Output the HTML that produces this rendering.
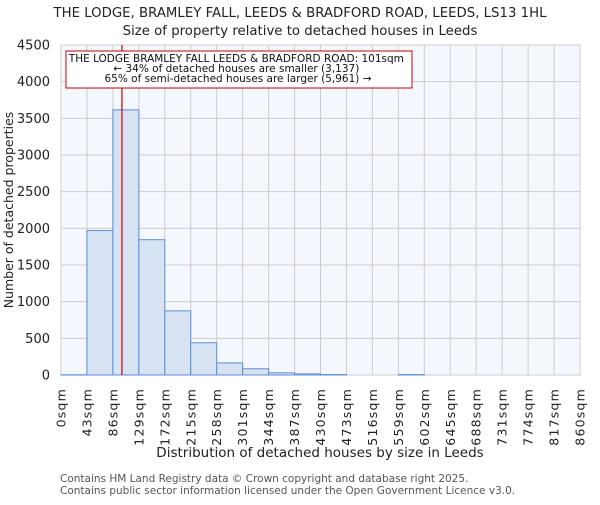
<!DOCTYPE html>
<html><head><meta charset="utf-8"><style>
body{margin:0;background:#fff}
svg text{font-family:"DejaVu Sans","Liberation Sans",sans-serif}
</style></head><body>
<svg id="chart" width="600" height="500" xmlns="http://www.w3.org/2000/svg">
<text x="300" y="17" font-size="13.3" text-anchor="middle" fill="#222">THE LODGE, BRAMLEY FALL, LEEDS &amp; BRADFORD ROAD, LEEDS, LS13 1HL</text>
<text x="300" y="35" font-size="13.3" text-anchor="middle" fill="#222">Size of property relative to detached houses in Leeds</text>
<rect x="61" y="45" width="519" height="330" fill="#f4f7fd" stroke="#ccc"/>
<g id="grid"></g>
<g id="bars"></g>
<g id="xticks"></g>
<g id="yticks"></g>
<line id="marker" stroke="#cc0000" stroke-width="1.2"/>
<rect x="66" y="51" width="346" height="37" fill="#fff" stroke="#cc0000" stroke-width="1"/>
<text font-size="10.5" text-anchor="middle" fill="#111">
<tspan x="238" y="62">THE LODGE BRAMLEY FALL LEEDS &amp; BRADFORD ROAD: 101sqm</tspan>
<tspan x="238" y="72">← 34% of detached houses are smaller (3,137)</tspan>
<tspan x="238" y="82">65% of semi-detached houses are larger (5,961) →</tspan>
</text>
<text transform="translate(13,210) rotate(-90)" font-size="12.5" text-anchor="middle" fill="#222">Number of detached properties</text>
<text x="320" y="457" font-size="13.5" text-anchor="middle" fill="#222">Distribution of detached houses by size in Leeds</text>
<text x="60" y="482" font-size="10.5" fill="#555">Contains HM Land Registry data © Crown copyright and database right 2025.</text>
<text x="60" y="494" font-size="10.5" fill="#555">Contains public sector information licensed under the Open Government Licence v3.0.</text>
</svg>
<script>
const binEdges=[0,43,86,129,172,215,258,301,344,387,430,473,516,559,602,645,688,731,774,817,860];
const counts=[3,1970,3615,1845,875,440,165,85,30,15,5,0,0,5,0,0,0,0,0,0];
const yTicks=[0,500,1000,1500,2000,2500,3000,3500,4000,4500];
const propertySize=101;
const NS="http://www.w3.org/2000/svg";
const X0=61,X1=580,Y0=375,Y1=45;
const xs=v=>X0+(v-0)/(860-0)*(X1-X0);
const ys=v=>Y0-v/4500*(Y0-Y1);
function mk(t,a,p){const e=document.createElementNS(NS,t);for(const k in a)e.setAttribute(k,a[k]);p.appendChild(e);return e;}
const grid=document.getElementById('grid'),bars=document.getElementById('bars'),xt=document.getElementById('xticks'),yt=document.getElementById('yticks');
binEdges.forEach(v=>{const l=mk('line',{x1:xs(v),x2:xs(v),y1:Y1,y2:Y0,stroke:'#ccc'},grid);


const t=mk('text',{transform:`translate(${xs(v)+4.5},388) rotate(-90)`,'font-size':12.5,'letter-spacing':'1.2','text-anchor':'end',fill:'#222'},xt);t.textContent=v+'sqm';

});
yTicks.forEach(v=>{const l=mk('line',{x1:X0,x2:X1,y1:ys(v),y2:ys(v),stroke:'#ccc'},grid);


const t=mk('text',{x:50,y:ys(v)+4.5,'font-size':13,'text-anchor':'end',fill:'#222'},yt);t.textContent=v;

});
counts.forEach((c,i)=>{if(c<=0)return;const x=xs(binEdges[i]),w=xs(binEdges[i+1])-x;
const r=mk('rect',{x:x,y:ys(c),width:w,height:Y0-ys(c),fill:'#d7e2f3',stroke:'#5b8fd6','stroke-width':1},bars);

});
const m=document.getElementById('marker');m.setAttribute('x1',xs(propertySize));m.setAttribute('x2',xs(propertySize));m.setAttribute('y1',Y1);m.setAttribute('y2',Y0);
</script>
</body></html>
